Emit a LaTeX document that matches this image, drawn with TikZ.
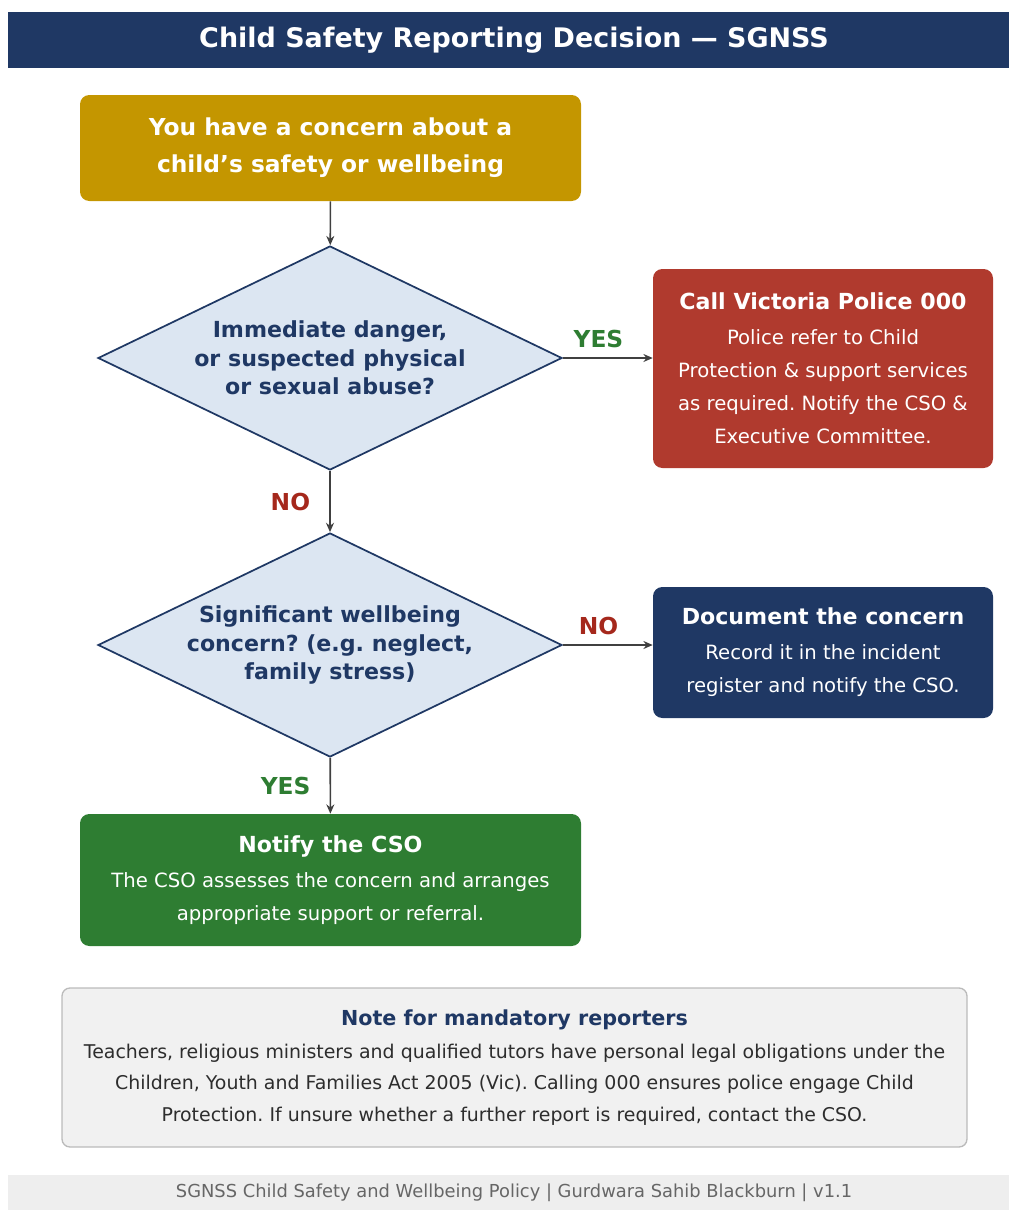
\documentclass[tikz,border=0pt]{standalone}
\usepackage{fontspec}
\setmainfont{DejaVu Sans}
\usepackage{tikz}
\usetikzlibrary{shapes.geometric, arrows.meta, positioning, calc}
\frenchspacing
\definecolor{mynavy}{RGB}{31,56,100}
\definecolor{mygold}{RGB}{196,150,0}
\definecolor{myred}{RGB}{176,58,46}
\definecolor{mygreen}{RGB}{46,125,50}
\definecolor{mynored}{RGB}{165,40,28}
\definecolor{mydark}{RGB}{64,64,64}
\definecolor{hdrblue}{RGB}{220,230,242}
\definecolor{notefill}{RGB}{241,241,241}
\definecolor{noteframe}{RGB}{187,187,187}
\definecolor{footfill}{RGB}{238,238,238}
\definecolor{foottext}{RGB}{102,102,102}
\definecolor{notetext}{RGB}{45,45,45}
\tikzset{
  titlebar/.style={rectangle, fill=mynavy, text=white, inner sep=0pt,
    font=\fontsize{20.2}{24}\selectfont\bfseries},
  block/.style={rectangle, rounded corners=7pt, text=white, align=center,
    inner sep=0pt, font=\fontsize{14.75}{24.75}\selectfont},
  startblock/.style={block, fill=mygold,
    font=\fontsize{17.5}{27.75}\selectfont\bfseries},
  decision/.style={diamond, aspect=2.07, draw=mynavy, fill=hdrblue,
    line width=1.3pt, inner sep=0pt, align=center, text=mynavy,
    font=\fontsize{16.6}{21.4}\selectfont\bfseries},
  notebox/.style={rectangle, rounded corners=6pt, draw=noteframe, fill=notefill,
    line width=1pt, inner sep=0pt, align=center, text=notetext,
    font=\fontsize{14.2}{23.6}\selectfont},
  footer/.style={rectangle, fill=footfill, text=foottext, inner sep=0pt,
    font=\fontsize{13.4}{15}\selectfont},
  yeslabel/.style={text=mygreen, font=\fontsize{17.5}{20}\selectfont\bfseries},
  nolabel/.style={text=mynored, font=\fontsize{17.5}{20}\selectfont\bfseries},
  arrow/.style={-{Stealth[length=7pt, width=6pt]}, line width=1.2pt, color=mydark}
}
\newcommand{\boxtitle}[1]{{\fontsize{16.6}{24.75}\selectfont\bfseries #1}}

\begin{document}
\begin{tikzpicture}[x=0.75pt, y=-0.75pt]
  \useasboundingbox (0,0) rectangle (1008,1210);

  \node[titlebar, minimum width=759pt, minimum height=42pt] (title) at (514,40)
    {Child Safety Reporting Decision — SGNSS};

  \node[startblock, minimum width=375.75pt, minimum height=79.5pt] (concern) at (330.5,148)
    {You have a concern about a\\child’s safety or wellbeing};

  \node[decision, minimum width=348pt, minimum height=168pt] (danger) at (330,358)
    {Immediate danger,\\or suspected physical\\or sexual abuse?};
  \node[block, fill=myred, minimum width=255pt, minimum height=149.25pt] (police) at (823,368.5)
    {\boxtitle{Call Victoria Police 000}\\[1.5pt]Police refer to Child\\Protection \& support services\\as required. Notify the CSO \&\\Executive Committee.};

  \node[decision, minimum width=348pt, minimum height=168pt] (wellbeing) at (330,645)
    {Significant wellbeing\\concern? (e.g. neglect,\\family stress)};
  \node[block, fill=mynavy, minimum width=255pt, minimum height=98.25pt] (document) at (823,652.5)
    {\boxtitle{Document the concern}\\[1.5pt]Record it in the incident\\register and notify the CSO.};

  \node[block, fill=mygreen, minimum width=375.75pt, minimum height=99pt] (cso) at (330.5,880)
    {\boxtitle{Notify the CSO}\\[1.5pt]The CSO assesses the concern and arranges\\appropriate support or referral.};

  \node[notebox, minimum width=678.75pt, minimum height=119.25pt] (note) at (514.5,1067.5)
    {{\fontsize{15.5}{23.6}\selectfont\bfseries\color{mynavy}Note for mandatory reporters}\\[1pt]Teachers, religious ministers and qualified tutors have personal legal obligations under the\\Children, Youth and Families Act 2005 (Vic). Calling 000 ensures police engage Child\\Protection. If unsure whether a further report is required, contact the CSO.};

  \node[footer, minimum width=759pt, minimum height=26.25pt] (foot) at (514,1192.5)
    {SGNSS Child Safety and Wellbeing Policy | Gurdwara Sahib Blackburn | v1.1};

  \draw[arrow] (concern) -- (danger);
  \draw[arrow] (danger.east) -- node[above=4pt, xshift=-7pt, yeslabel] {YES} (danger.east -| police.west);
  \draw[arrow] (danger) -- node[left=11pt, nolabel] {NO} (wellbeing);
  \draw[arrow] (wellbeing.east) -- node[above=4pt, xshift=-7pt, nolabel] {NO} (wellbeing.east -| document.west);
  \draw[arrow] (wellbeing) -- node[left=11pt, yeslabel] {YES} (cso);
\end{tikzpicture}
\end{document}
